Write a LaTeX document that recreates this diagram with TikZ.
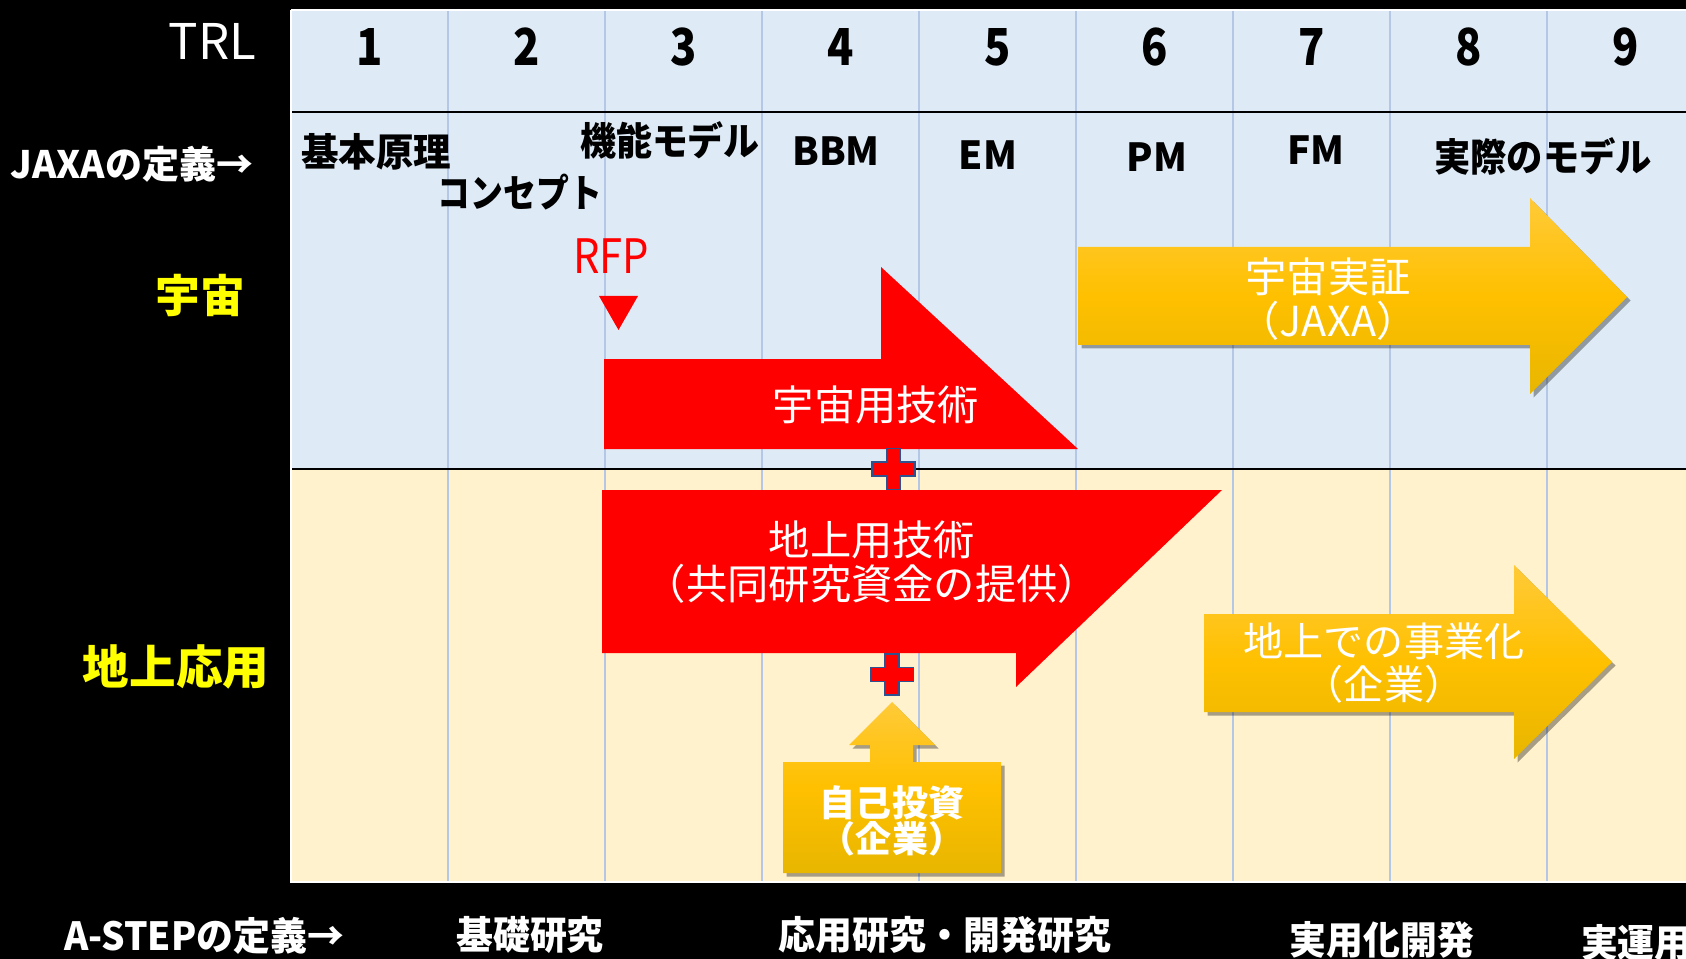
\documentclass[tikz,border=0pt]{standalone}
\usepackage{fontspec}
\setmainfont{Noto Sans CJK JP}
\usetikzlibrary{shadows}
\definecolor{upbg}{HTML}{DEEBF7}
\definecolor{lowbg}{HTML}{FFF2CC}
\definecolor{gridc}{HTML}{B4C7E7}
\definecolor{plusc}{HTML}{2F528F}
\definecolor{ylab}{HTML}{FFFF00}
\definecolor{goldtop}{HTML}{FFCA38}
\definecolor{goldmid}{HTML}{FFC000}
\definecolor{goldbot}{HTML}{E8B600}
\newcommand{\fsz}[1]{\fontsize{#1}{1.15\dimexpr#1\relax}\selectfont}
\begin{document}
\begin{tikzpicture}[x=0.02cm,y=-0.02cm,
  every node/.style={inner sep=0pt, outer sep=0pt},
  trlnum/.style={font=\bfseries\fsz{29pt}, text=black},
  deflab/.style={font=\bfseries\fsz{22pt}, text=black},
  sidelab/.style={font=\bfseries\fsz{21.5pt}, text=white},
  rowlab/.style={font=\bfseries\fsz{25.5pt}, text=ylab},
  arrowtxt/.style={font=\fsz{23.5pt}, text=white, align=center},
  steplab/.style={font=\bfseries\fsz{21pt}, text=white},
  goldshape/.style={top color=goldtop, bottom color=goldbot, middle color=goldmid,
    drop shadow={shadow xshift=0.07cm, shadow yshift=-0.07cm, opacity=0.35, fill=black}},
  plusshape/.style={fill=red, draw=plusc, line width=1.1pt},
  pluspic/.pic={\path[plusshape] (-21.5,-7) -- (-7,-7) -- (-7,-20.5) -- (7,-20.5) -- (7,-7) -- (21.5,-7) -- (21.5,7) -- (7,7) -- (7,20.5) -- (-7,20.5) -- (-7,7) -- (-21.5,7) -- cycle;}
]
\useasboundingbox (0,0) rectangle (1686,959);
\clip (0,0) rectangle (1686,959);
% background
\fill[black] (0,0) rectangle (1686,959);
\fill[upbg] (291,10) rectangle (1686,469);
\fill[lowbg] (291,469) rectangle (1686,882);
\draw[white, line width=0.8pt] (291,10) -- (1686,10);
\draw[white, line width=0.8pt] (291,10) -- (291,882) -- (1686,882);
% grid lines
\foreach \i in {1,...,8} {
  \draw[gridc, line width=1pt] ({291+157*\i},11) -- ({291+157*\i},881);
}
\draw[black, line width=1.3pt] (292,112) -- (1686,112);
\draw[black, line width=1.3pt] (292,469) -- (1686,469);
% TRL header
\node[font=\fsz{28pt}, text=white, anchor=east] (trl) at (256,41) {TRL};
\foreach \i in {1,...,9} {
  \node[trlnum] (n\i) at ({291+157*(\i-0.5)},47) {\scalebox{0.85}[1]{\i}};
}
% JAXA definitions
\node[sidelab] (jaxadef) at (132,164) {\scalebox{0.98}[1]{JAXAの定義→}};
\node[deflab] (d1) at (376,152) {\scalebox{0.97}[1]{基本原理}};
\node[deflab] (d2) at (520,192) {\scalebox{0.85}[1]{コンセプト}};
\node[deflab] (d3) at (670,140) {\scalebox{0.93}[1]{機能モデル}};
\node[deflab] (d4) at (836,151) {BBM};
\node[deflab] (d5) at (988,155) {EM};
\node[deflab] (d6) at (1157,157) {PM};
\node[deflab] (d7) at (1316,150) {FM};
\node[deflab] (d8) at (1543,156) {\scalebox{0.94}[1]{実際のモデル}};
% row labels
\node[rowlab] (space) at (200,295) {宇宙};
\node[rowlab, font=\bfseries\fsz{26.5pt}] (ground) at (176,667) {地上応用};
% RFP
\node[font=\fsz{27pt}, text=red] (rfp) at (611,256) {\scalebox{0.88}[1]{RFP}};
\fill[red] (599,296) -- (638,296) -- (618.5,330) -- cycle;
% red arrows
\fill[red] (604,359) -- (881,359) -- (881,267) -- (1078,449) -- (604,449) -- cycle;
\node[arrowtxt] (spacetech) at (876,405) {宇宙用技術};
\fill[red] (602,490) -- (1222,490) -- (1016,687) -- (1016,653) -- (602,653) -- cycle;
\node[arrowtxt] (groundtech) at (872,562) {地上用技術\\[-2pt]（共同研究資金の提供）};
% plus signs
\pic (plusa) at (893.5,469) {pluspic};
\pic (plusb) at (892,674.5) {pluspic};
% gold arrows
\path[goldshape] (1078,247) -- (1530,247) -- (1530,198) -- (1627,297) -- (1530,394) -- (1530,345) -- (1078,345) -- cycle;
\node[arrowtxt] (spacedemo) at (1328,299) {宇宙実証\\[-2pt]（JAXA）};
\path[goldshape] (1204,614) -- (1514,614) -- (1514,565) -- (1612,662) -- (1514,759) -- (1514,712) -- (1204,712) -- cycle;
\node[arrowtxt, font=\fsz{22.8pt}] (biz) at (1384,663) {地上での事業化\\[-2pt]（企業）};
\path[goldshape] (783,762) -- (870,762) -- (870,745) -- (849,745) -- (892,702) -- (935,745) -- (913,745) -- (913,762) -- (1001,762) -- (1001,873) -- (783,873) -- cycle;
\node[arrowtxt, font=\bfseries\fsz{20.5pt}] (selfinv) at (892,821) {自己投資\\[-3pt]（企業）};
% A-STEP definitions
\node[steplab] (astep) at (204,936) {\scalebox{1.0}[1.05]{A-STEPの定義→}};
\node[steplab] (s1) at (530,935) {\scalebox{1}[1.05]{基礎研究}};
\node[steplab] (s2) at (945,935) {\scalebox{1}[1.05]{応用研究・開発研究}};
\node[steplab] (s3) at (1382,940) {\scalebox{1}[1.05]{実用化開発}};
\node[steplab, anchor=west] (s4) at (1581,943) {\scalebox{1}[1.05]{実運用}};
\end{tikzpicture}
\end{document}
